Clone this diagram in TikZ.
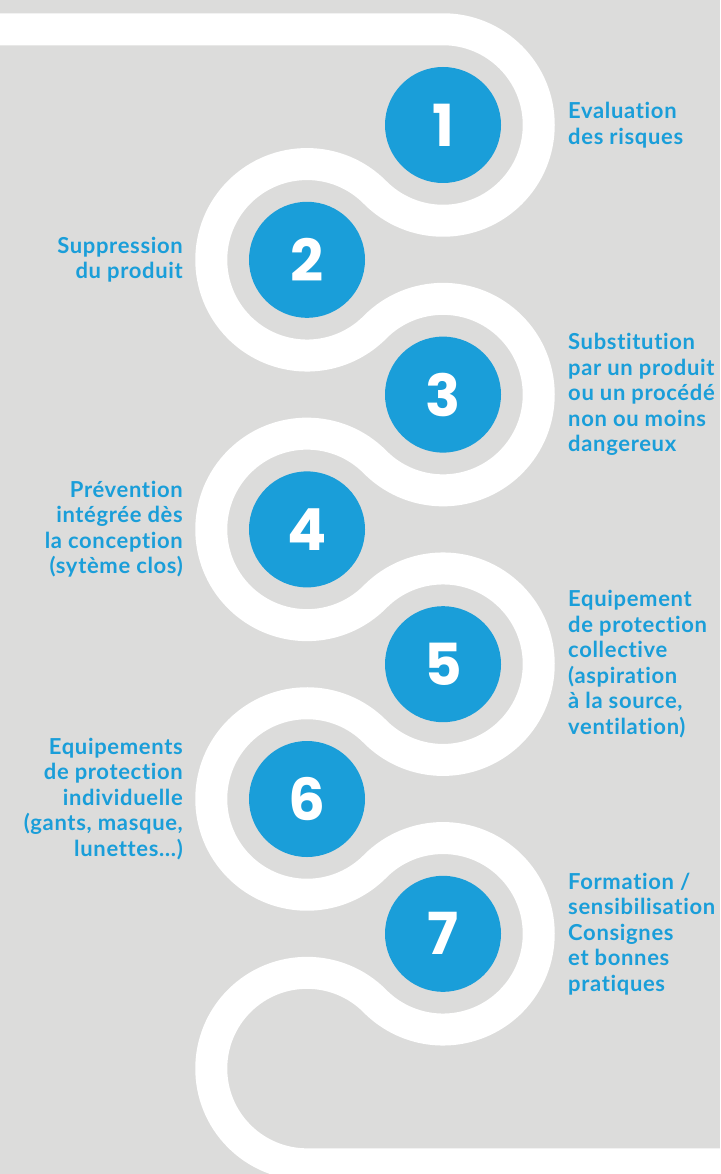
\documentclass[tikz,border=0pt]{standalone}
\usepackage{fontspec}
\setmainfont{Lato}[Ligatures=NoCommon,LetterSpace=3]
\newfontfamily\numfont{Poppins}
\definecolor{bg}{RGB}{220,220,219}
\definecolor{stepblue}{RGB}{26,158,217}
\begin{document}
\begin{tikzpicture}[x=1pt,y=1pt,
  road/.style={draw=white,line width=32pt},
  numcirc/.style={circle,fill=stepblue,minimum size=116pt,inner sep=0pt,text=white,
    font=\numfont\bfseries\fontsize{58}{58}\selectfont},
  rlabel/.style={anchor=west,align=left,inner sep=0pt,text=stepblue,
    font=\bfseries\fontsize{22}{25.5}\selectfont},
  llabel/.style={anchor=east,align=right,inner sep=0pt,text=stepblue,
    font=\bfseries\fontsize{22}{25.5}\selectfont}]
\fill[bg] (0,0) rectangle (720,-1174);
\useasboundingbox (0,0) rectangle (720,-1174);
\def\R{95.745pt}
\draw[road] (-5,-29.255) -- (443,-29.255)
  arc[start angle=90,end angle=-135.254,radius=\R]
  arc[start angle=44.746,end angle=315.254,radius=\R]
  arc[start angle=135.254,end angle=-135.254,radius=\R]
  arc[start angle=44.746,end angle=315.254,radius=\R]
  arc[start angle=135.254,end angle=-135.254,radius=\R]
  arc[start angle=44.746,end angle=315.254,radius=\R]
  arc[start angle=135.254,end angle=-135.254,radius=\R]
  arc[start angle=44.746,end angle=270,radius=\R]
  -- (730,-1164.345);
\node[numcirc] (n1) at (443,-125) {1};
\node[numcirc] (n2) at (307,-259.8) {2};
\node[numcirc] (n3) at (443,-394.6) {3};
\node[numcirc] (n4) at (307,-529.4) {4};
\node[numcirc] (n5) at (443,-664.2) {5};
\node[numcirc] (n6) at (307,-799) {6};
\node[numcirc] (n7) at (443,-933.8) {7};
\node[rlabel] (t1) at (568,-125) {Evaluation\\des risques};
\node[llabel] (t2) at (183,-259.8) {Suppression\\du produit};
\node[rlabel] (t3) at (568,-394.6) {Substitution\\par un produit\\ou un procédé\\non ou moins\\dangereux};
\node[llabel] (t4) at (183,-529.4) {Prévention\\intégrée dès\\la conception\\(sytème clos)};
\node[rlabel] (t5) at (568,-664.2) {Equipement\\de protection\\collective\\(aspiration\\à la source,\\ventilation)};
\node[llabel] (t6) at (183,-799) {Equipements\\de protection\\individuelle\\(gants, masque,\\lunettes…)};
\node[rlabel] (t7) at (568,-933.8) {Formation /\\sensibilisation\\Consignes\\et bonnes\\pratiques};
\end{tikzpicture}
\end{document}
